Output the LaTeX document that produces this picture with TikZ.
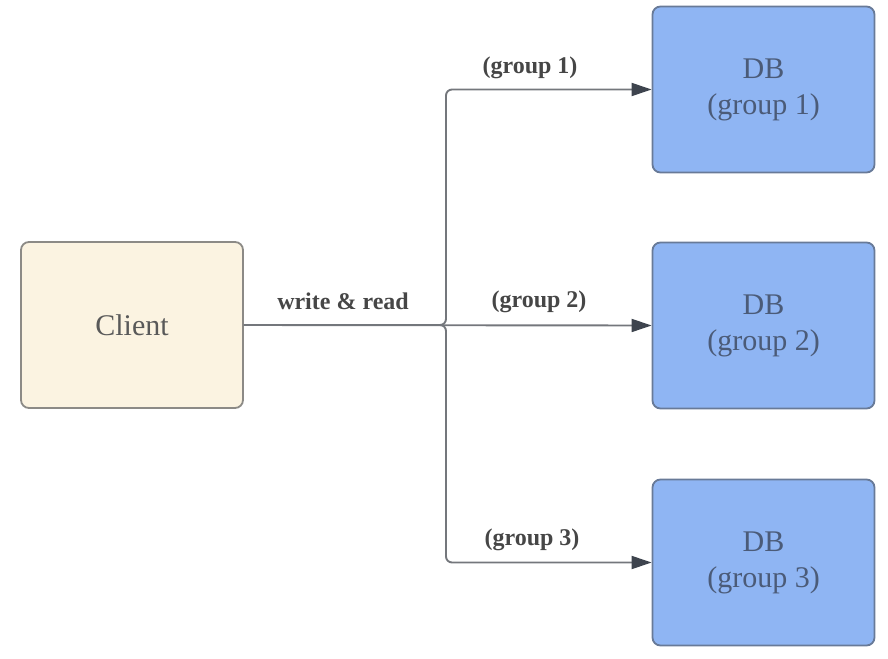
\documentclass[tikz,border=0pt]{standalone}
\usepackage{fontspec}
\setmainfont{Liberation Serif}
\usetikzlibrary{arrows.meta}
\definecolor{clientfill}{HTML}{FBF3E1}
\definecolor{clientdraw}{HTML}{8C8A86}
\definecolor{dbfill}{HTML}{8FB5F3}
\definecolor{dbdraw}{HTML}{687A98}
\definecolor{dbtext}{HTML}{4B5B78}
\definecolor{linecol}{HTML}{74777C}
\definecolor{tipcol}{HTML}{3E444E}
\definecolor{labcol}{HTML}{464646}
\begin{document}
\begin{tikzpicture}[x=1pt,y=-1pt,
  box/.style={draw, line width=1.8pt, rounded corners=8pt, minimum width=222pt, minimum height=166pt, align=center, font=\fontsize{30}{36}\selectfont},
  clientbox/.style={box, fill=clientfill, draw=clientdraw, text=black!65},
  dbbox/.style={box, fill=dbfill, draw=dbdraw, text=dbtext},
  conn/.style={draw=linecol, line width=1.9pt, rounded corners=6pt, -{Triangle[length=20pt,width=13pt,color=tipcol]}},
  lab/.style={text=labcol, font=\bfseries\fontsize{24}{26}\selectfont}]
\useasboundingbox (0,0) rectangle (888,658);
\node[clientbox] (client) at (132,325) {Client};
\node[dbbox] (db1) at (763.5,89.5) {DB\\(group 1)};
\node[dbbox] (db2) at (763.5,325.5) {DB\\(group 2)};
\node[dbbox] (db3) at (763.5,562.5) {DB\\(group 3)};
\coordinate (j) at (446,325);
\draw[conn] (client.east) -- (j) |- (db1.west);
\draw[conn] (client.east) -- (db2.west);
\draw[conn] (client.east) -- (j) |- (db3.west);
\node[lab] (l0) at (343,301) {write \& read};
\node[lab] (l1) at (530,68) {(group 1)};
\node[lab] (l2) at (539,302) {(group 2)};
\node[lab] (l3) at (532,540) {(group 3)};
\end{tikzpicture}
\end{document}
